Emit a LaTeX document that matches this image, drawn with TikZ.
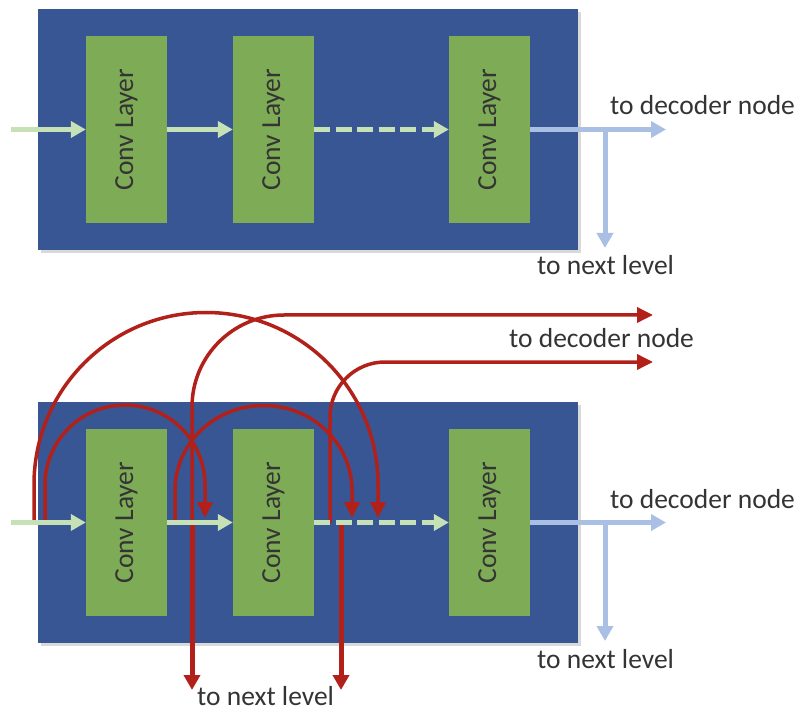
\documentclass[tikz,border=0pt]{standalone}
\usepackage{fontspec}
\setmainfont{Carlito}
\usetikzlibrary{calc}
\usetikzlibrary{arrows.meta}
\usetikzlibrary{shadows}
\definecolor{blockblue}{RGB}{56,86,147}
\definecolor{convgreen}{RGB}{126,171,85}
\definecolor{flowgreen}{RGB}{199,225,183}
\definecolor{outblue}{RGB}{170,191,228}
\definecolor{skipred}{RGB}{178,32,26}
\definecolor{txtgray}{RGB}{52,52,52}
\begin{document}
\begin{tikzpicture}[x=1pt,y=-1pt,inner sep=0pt,
  font=\fontsize{27.5}{33}\selectfont,text=txtgray,
  block/.style={fill=blockblue,minimum width=540pt,minimum height=241pt,
    drop shadow={opacity=0.3,shadow xshift=3pt,shadow yshift=-3pt}},
  conv/.style={fill=convgreen,minimum width=81pt,minimum height=187pt},
  lbl/.style={anchor=base west},
  flow/.style={draw=flowgreen,line width=5pt,-{Triangle[length=15pt,width=16pt]}},
  outflow/.style={draw=outblue,line width=5pt,-{Triangle[length=15pt,width=16pt]}},
  skip/.style={draw=skipred,line width=3.5pt,-{Triangle[length=16pt,width=15pt]}},
  skipthick/.style={draw=skipred,line width=5pt,-{Triangle[length=15pt,width=16pt]}}]
\useasboundingbox (0,0) rectangle (798,711);
\def\cl{\rotatebox{90}{Conv Layer}}

\node[block] (blkA) at (308,129.5) {};
\node[conv] (cA1) at (126.5,129.5) {\cl};
\node[conv] (cA2) at (273.5,129.5) {\cl};
\node[conv] (cA3) at (489.5,129.5) {\cl};
\coordinate (inA) at (11,129.5);
\coordinate (outA) at (666,129.5);
\coordinate (brA) at (605,129.5);
\coordinate (nlA) at (605,248);
\node[lbl] (decA) at (610,115) {to decoder node};
\node[lbl] (nextA) at (537,275) {to next level};

\draw[flow] (inA) -- (cA1.west);
\draw[flow] (cA1.east) -- (cA2.west);
\draw[flow,dash pattern=on 16pt off 5.5pt] (cA2.east) -- (cA3.west);
\draw[outflow] (cA3.east) -- (outA);
\draw[outflow] (brA) -- (nlA);

\node[block] (blkB) at (308,522.5) {};
\node[conv] (cB1) at (126.5,522.5) {\cl};
\node[conv] (cB2) at (273.5,522.5) {\cl};
\node[conv] (cB3) at (489.5,522.5) {\cl};
\coordinate (inB) at (11,522.5);
\coordinate (outB) at (666,522.5);
\coordinate (brB) at (605,522.5);
\coordinate (nlB) at (605,641);
\node[lbl] (decB) at (610,508) {to decoder node};
\node[lbl] (nextB) at (537,668) {to next level};

\coordinate (s1) at (34,522.5);
\coordinate (s2) at (45,522.5);
\coordinate (s3) at (175,522.5);
\coordinate (s4) at (192,522.5);
\coordinate (s5) at (330,522.5);
\coordinate (s6) at (341,522.5);
\coordinate (e1) at (378,518);
\coordinate (e2) at (205,518);
\coordinate (e3) at (352,518);
\coordinate (d1) at (653,315);
\coordinate (d2) at (653,362);
\coordinate (n1) at (192,690);
\coordinate (n2) at (341,690);
\node[lbl] (decR) at (509,348) {to decoder node};
\node[lbl] (nextR) at (197,705) {to next level};

\draw[skip] (s1) -- ++(0,-38) arc[start angle=180,end angle=0,radius=172pt] -- (e1);
\draw[skip] (s2) -- ++(0,-37.5) arc[start angle=180,end angle=0,radius=80pt] -- (e2);
\draw[skip] (s3) -- ++(0,-32) arc[start angle=180,end angle=0,x radius=88.5pt,y radius=85pt] -- (e3);
\draw[skip,rounded corners=92pt] (s4) |- (d1);
\draw[skip,rounded corners=55pt] (s5) |- (d2);
\draw[skipthick] (s4) -- (n1);
\draw[skipthick] (s6) -- (n2);

\draw[flow] (inB) -- (cB1.west);
\draw[flow] (cB1.east) -- (cB2.west);
\draw[flow,dash pattern=on 16pt off 5.5pt] (cB2.east) -- (cB3.west);
\draw[outflow] (cB3.east) -- (outB);
\draw[outflow] (brB) -- (nlB);
\end{tikzpicture}
\end{document}
